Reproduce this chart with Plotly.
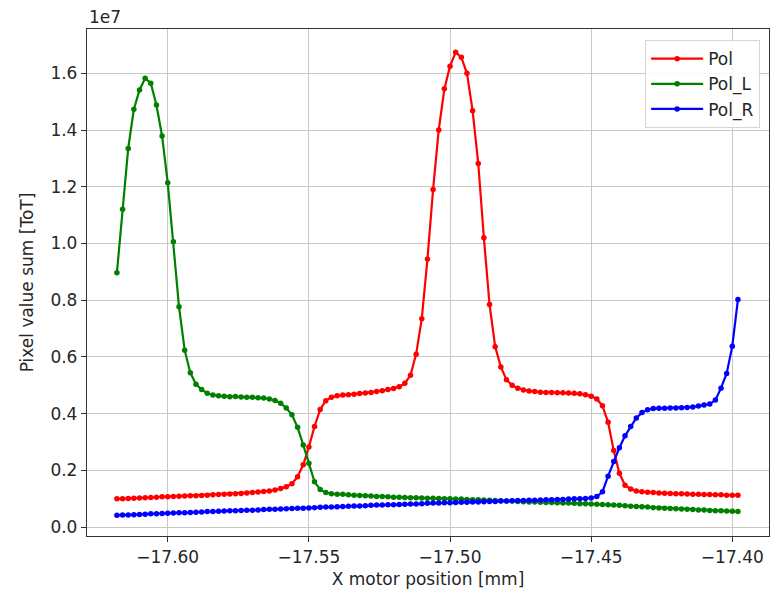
import plotly.graph_objects as go

# X motor positions [mm]
x_pos = [
    -17.618, -17.616, -17.614, -17.612, -17.610, -17.608, -17.606, -17.604, -17.602, -17.600,
    -17.598, -17.596, -17.594, -17.592, -17.590, -17.588, -17.586, -17.584, -17.582, -17.580,
    -17.578, -17.576, -17.574, -17.572, -17.570, -17.568, -17.566, -17.564, -17.562, -17.560,
    -17.558, -17.556, -17.554, -17.552, -17.550, -17.548, -17.546, -17.544, -17.542, -17.540,
    -17.538, -17.536, -17.534, -17.532, -17.530, -17.528, -17.526, -17.524, -17.522, -17.520,
    -17.518, -17.516, -17.514, -17.512, -17.510, -17.508, -17.506, -17.504, -17.502, -17.500,
    -17.498, -17.496, -17.494, -17.492, -17.490, -17.488, -17.486, -17.484, -17.482, -17.480,
    -17.478, -17.476, -17.474, -17.472, -17.470, -17.468, -17.466, -17.464, -17.462, -17.460,
    -17.458, -17.456, -17.454, -17.452, -17.450, -17.448, -17.446, -17.444, -17.442, -17.440,
    -17.438, -17.436, -17.434, -17.432, -17.430, -17.428, -17.426, -17.424, -17.422, -17.420,
    -17.418, -17.416, -17.414, -17.412, -17.410, -17.408, -17.406, -17.404, -17.402, -17.400,
    -17.398,
]

# Pixel value sums, in units of 1e7
pol = [
    0.100, 0.100, 0.101, 0.102, 0.103, 0.104, 0.105, 0.106, 0.107, 0.107,
    0.108, 0.109, 0.110, 0.111, 0.111, 0.112, 0.113, 0.114, 0.115, 0.116,
    0.117, 0.118, 0.119, 0.121, 0.122, 0.124, 0.126, 0.128, 0.131, 0.136,
    0.143, 0.153, 0.178, 0.220, 0.283, 0.355, 0.415, 0.446, 0.458, 0.463,
    0.466, 0.467, 0.469, 0.471, 0.473, 0.475, 0.478, 0.481, 0.485, 0.489,
    0.495, 0.507, 0.536, 0.610, 0.735, 0.945, 1.190, 1.400, 1.545, 1.625,
    1.674, 1.656, 1.600, 1.468, 1.282, 1.020, 0.785, 0.636, 0.565, 0.520,
    0.500, 0.490, 0.484, 0.480, 0.478, 0.476, 0.475, 0.475, 0.474, 0.474,
    0.473, 0.472, 0.470, 0.467, 0.462, 0.452, 0.428, 0.370, 0.270, 0.190,
    0.148, 0.135, 0.128, 0.125, 0.123, 0.122, 0.121, 0.120, 0.119, 0.118,
    0.118, 0.117, 0.116, 0.116, 0.115, 0.115, 0.114, 0.114, 0.113, 0.113,
    0.113,
]

pol_l = [
    0.897, 1.121, 1.335, 1.473, 1.541, 1.582, 1.565, 1.488, 1.379, 1.214,
    1.006, 0.777, 0.624, 0.544, 0.504, 0.485, 0.472, 0.466, 0.463, 0.462,
    0.460, 0.461, 0.459, 0.458, 0.458, 0.456, 0.455, 0.452, 0.447, 0.437,
    0.420, 0.396, 0.352, 0.290, 0.225, 0.160, 0.133, 0.122, 0.118, 0.116,
    0.116, 0.114, 0.113, 0.112, 0.111, 0.110, 0.108, 0.108, 0.107, 0.106,
    0.106, 0.105, 0.104, 0.104, 0.103, 0.102, 0.102, 0.101, 0.100, 0.100,
    0.099, 0.099, 0.098, 0.097, 0.097, 0.096, 0.095, 0.094, 0.093, 0.092,
    0.092, 0.091, 0.090, 0.089, 0.089, 0.088, 0.087, 0.087, 0.086, 0.085,
    0.085, 0.084, 0.083, 0.083, 0.082, 0.081, 0.080, 0.079, 0.078, 0.077,
    0.076, 0.074, 0.073, 0.072, 0.071, 0.069, 0.068, 0.067, 0.066, 0.065,
    0.064, 0.063, 0.062, 0.061, 0.061, 0.059, 0.058, 0.058, 0.057, 0.056,
    0.055,
]

pol_r = [
    0.042, 0.043, 0.043, 0.044, 0.045, 0.046, 0.047, 0.047, 0.048, 0.049,
    0.050, 0.051, 0.051, 0.052, 0.053, 0.054, 0.055, 0.055, 0.056, 0.057,
    0.058, 0.058, 0.059, 0.060, 0.060, 0.061, 0.062, 0.063, 0.063, 0.064,
    0.065, 0.066, 0.067, 0.067, 0.068, 0.069, 0.070, 0.071, 0.071, 0.072,
    0.073, 0.074, 0.075, 0.075, 0.076, 0.077, 0.078, 0.078, 0.079, 0.079,
    0.080, 0.081, 0.082, 0.082, 0.083, 0.084, 0.085, 0.085, 0.086, 0.086,
    0.087, 0.088, 0.088, 0.089, 0.089, 0.090, 0.091, 0.091, 0.092, 0.092,
    0.093, 0.094, 0.094, 0.095, 0.095, 0.096, 0.097, 0.097, 0.098, 0.098,
    0.099, 0.100, 0.100, 0.101, 0.103, 0.108, 0.125, 0.180, 0.232, 0.280,
    0.322, 0.355, 0.385, 0.404, 0.414, 0.418, 0.419, 0.419, 0.420, 0.420,
    0.421, 0.422, 0.424, 0.427, 0.431, 0.434, 0.448, 0.490, 0.542, 0.638,
    0.803,
]

series_names = ["Pol", "Pol_L", "Pol_R"]
series_colors = ["#ff0000", "#008000", "#0000ff"]

x_tick_vals = [-17.60, -17.55, -17.50, -17.45, -17.40]
x_tick_text = ["\u221217.60", "\u221217.55", "\u221217.50", "\u221217.45", "\u221217.40"]
y_tick_vals = [0.0, 0.2, 0.4, 0.6, 0.8, 1.0, 1.2, 1.4, 1.6]
y_tick_text = ["0.0", "0.2", "0.4", "0.6", "0.8", "1.0", "1.2", "1.4", "1.6"]

FONT = "DejaVu Sans, Arial, sans-serif"
TXT = "#262626"

fig = go.Figure()
for name, ys, col in zip(series_names, [pol, pol_l, pol_r], series_colors):
    fig.add_trace(go.Scatter(
        x=x_pos, y=ys, name=name, mode="lines+markers",
        line=dict(color=col, width=2.2),
        marker=dict(color=col, size=5.5),
    ))

axis_common = dict(
    showline=True, mirror=True, linecolor="#333333", linewidth=1.3,
    ticks="outside", ticklen=5, tickcolor="#333333", tickwidth=1.2,
    showgrid=True, gridcolor="#c8c8c8", gridwidth=1.2, zeroline=False,
    tickfont=dict(family=FONT, size=17, color=TXT),
    automargin=False,
)

fig.update_layout(
    width=772, height=600,
    margin=dict(l=87, r=3, t=29, b=64),
    paper_bgcolor="white", plot_bgcolor="white",
    font=dict(family=FONT, size=16, color=TXT),
    xaxis=dict(
        range=[-17.6286, -17.3870],
        tickmode="array", tickvals=x_tick_vals, ticktext=x_tick_text,
        title=dict(text="X motor position [mm]", font=dict(family=FONT, size=17, color=TXT), standoff=7),
        **axis_common,
    ),
    yaxis=dict(
        range=[-0.031, 1.756],
        tickmode="array", tickvals=y_tick_vals, ticktext=y_tick_text,
        title=dict(text="Pixel value sum [ToT]", font=dict(family=FONT, size=17, color=TXT), standoff=12),
        **axis_common,
    ),
    legend=dict(
        x=0.987, y=0.978, xanchor="right", yanchor="top",
        bgcolor="rgba(255,255,255,0.85)", bordercolor="#d6d6d6", borderwidth=1,
        font=dict(family=FONT, size=17, color=TXT),
        itemwidth=52, tracegroupgap=0,
    ),
    showlegend=True,
    annotations=[dict(
        x=0, y=1, xref="paper", yref="paper", xanchor="left", yanchor="bottom",
        text="1e7", showarrow=False, font=dict(family=FONT, size=17, color=TXT),
        yshift=0,
    )],
)

fig.write_html(
    "out.html",
    config={"responsive": False, "displayModeBar": False},
    post_script="document.body.style.margin='0';document.body.style.overflow='hidden';",
)
